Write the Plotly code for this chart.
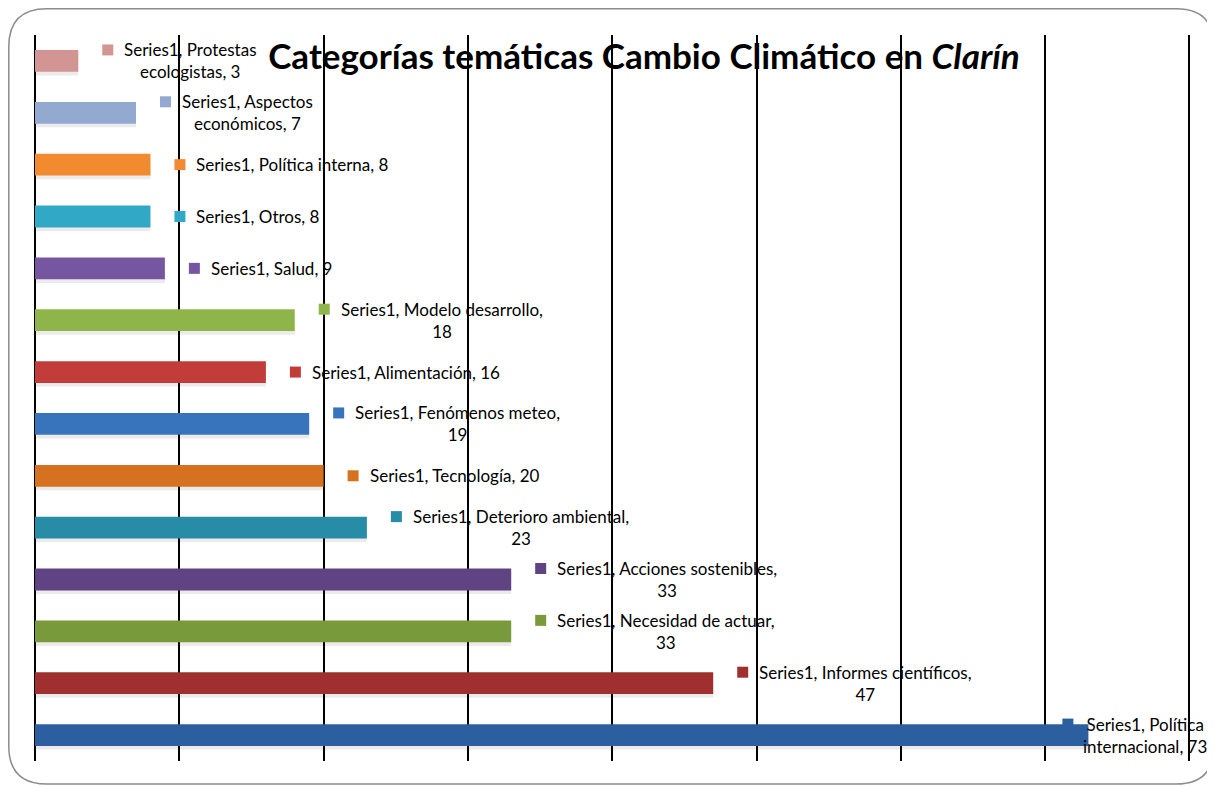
import plotly.graph_objects as go

# ---- data (top to bottom as displayed) ----
categories = [
    "Protestas ecologistas", "Aspectos económicos", "Política interna", "Otros",
    "Salud", "Modelo desarrollo", "Alimentación", "Fenómenos meteo",
    "Tecnología", "Deterioro ambiental", "Acciones sostenibles",
    "Necesidad de actuar", "Informes científicos", "Política internacional",
]
values = [3, 7, 8, 8, 9, 18, 16, 19, 20, 23, 33, 33, 47, 73]
series_name = "Series1"
# words kept on the first line of each data label (0 = single line)
first_line_words = [2, 2, 0, 0, 0, 3, 0, 3, 0, 3, 3, 4, 3, 2]
bar_colors = [
    "#D29594", "#93A9D0", "#F28A30", "#31A9C6", "#7656A0", "#8FB44A", "#C23C39",
    "#3874BC", "#D6711F", "#278CA6", "#5F4383", "#789A3A", "#A02F2F", "#2C5F9F",
]
title_text = "<b>Categorías temáticas Cambio Climático en <i>Clarín</i></b>"

W, H = 1215, 787
X_MAX = 80.25
PX_PER_UNIT = 1154 / 80
ML, MT, MB = 27, 27, 34
MR = round(W - ML - PX_PER_UNIT * X_MAX)
BAR_W = 0.42
FONT = "Lato, sans-serif"

fig = go.Figure()

# soft drop shadow
fig.add_trace(go.Bar(
    x=values, y=categories, orientation="h", width=BAR_W,
    offset=-BAR_W / 2 + 0.07, marker=dict(color="rgba(0,0,0,0.08)", line=dict(width=0)),
    hoverinfo="skip", showlegend=False,
))
# main bars
fig.add_trace(go.Bar(
    x=values, y=categories, orientation="h", width=BAR_W, offset=-BAR_W / 2,
    marker=dict(color=bar_colors, line=dict(width=0)), name=series_name,
    showlegend=False,
))

LINE_H = 22
n = len(categories)
for i, (cat, val, n1, col) in enumerate(zip(categories, values, first_line_words, bar_colors)):
    words = f"{series_name}, {cat}, {val}".split(" ")
    if n1:
        text = " ".join(words[:n1]) + "<br>" + " ".join(words[n1:])
        dy = LINE_H / 2
    else:
        text = " ".join(words)
        dy = 0
    # the last (longest) bar's label is pulled back over the bar end to fit
    last = i == n - 1
    text_dx = -7 if last else 44
    sq_dx = -26 if last else 24
    fig.add_annotation(
        x=val, y=cat, xref="x", yref="y", text=text, showarrow=False,
        xanchor="left", yanchor="middle", align="center", xshift=text_dx,
        font=dict(family=FONT, size=17, color="#000000"),
    )
    fig.add_shape(
        type="rect", xref="x", yref="y", xsizemode="pixel", ysizemode="pixel",
        xanchor=val, yanchor=cat, x0=sq_dx, x1=sq_dx + 11, y0=dy - 5.5, y1=dy + 5.5,
        fillcolor=col, line=dict(width=0), layer="above",
    )

# rounded outer frame (paper coords computed from pixel geometry)
pw, ph = W - ML - MR, H - MT - MB
def px(x):
    return (x - ML) / pw
def py(y):
    return (H - MB - y) / ph
L, R, T, B, r = 0.8, 1206, 0.8, 776, 38
path = (
    f"M {px(L + r)},{py(T)} L {px(R - r)},{py(T)} Q {px(R)},{py(T)} {px(R)},{py(T + r)} "
    f"L {px(R)},{py(B - r)} Q {px(R)},{py(B)} {px(R - r)},{py(B)} "
    f"L {px(L + r)},{py(B)} Q {px(L)},{py(B)} {px(L)},{py(B - r)} "
    f"L {px(L)},{py(T + r)} Q {px(L)},{py(T)} {px(L + r)},{py(T)} Z"
)
fig.add_shape(type="path", xref="paper", yref="paper", path=path,
              line=dict(color="#8C8C8C", width=1.5), layer="below")

fig.update_layout(
    width=W, height=H, margin=dict(l=ML, r=MR, t=MT, b=MB),
    paper_bgcolor="white", plot_bgcolor="white",
    barmode="overlay", bargap=0.58,
    title=dict(text=title_text, x=636 / W, xanchor="center", y=1 - 49 / H,
               yanchor="middle", font=dict(family=FONT, size=35, color="#000000")),
    xaxis=dict(range=[0, X_MAX], dtick=10, tick0=0, showgrid=True, gridcolor="#000000",
               gridwidth=1.6, zeroline=True, zerolinecolor="#000000", zerolinewidth=1.6,
               showticklabels=False, showline=False, ticks=""),
    yaxis=dict(type="category", autorange="reversed", showticklabels=False,
               showgrid=False, zeroline=False, showline=False, ticks=""),
    showlegend=False,
)

fig.write_html("out.html")
